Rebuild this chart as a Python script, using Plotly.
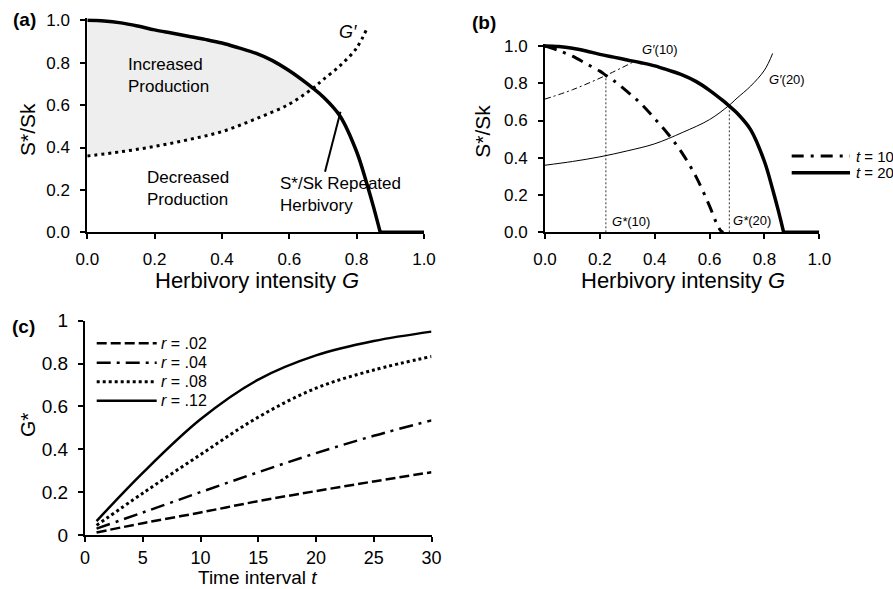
import plotly.graph_objects as go

FONT = "Liberation Sans, Arial, sans-serif"
W, H = 893, 589

# ---------------- data ----------------
# (a) / (b): equilibrium S*/Sk under repeated herbivory (t = 20)
G_GRID = [0, 0.05, 0.1, 0.15, 0.2, 0.25, 0.3, 0.35, 0.4, 0.45, 0.5, 0.55,
          0.6, 0.65, 0.67, 0.7, 0.75, 0.8, 0.83, 0.85, 0.87, 1.0]
S_T20 = [1.0, 0.997, 0.988, 0.973, 0.955, 0.94, 0.925, 0.91, 0.893, 0.87,
         0.845, 0.81, 0.762, 0.705, 0.68, 0.64, 0.55, 0.38, 0.23, 0.12,
         0.0, 0.0]
G_ZERO = 0.87  # intensity at which S*/Sk reaches zero

# G' threshold curve (same as G'(20))
GP_X = [0, 0.1, 0.2, 0.3, 0.4, 0.5, 0.6, 0.67, 0.7, 0.75, 0.8, 0.83]
GP_Y = [0.36, 0.38, 0.405, 0.437, 0.475, 0.535, 0.605, 0.68, 0.72, 0.785,
        0.87, 0.96]
G_CROSS = 0.67

# (b): t = 10 curve and its threshold G'(10)
G_T10 = [0, 0.05, 0.1, 0.15, 0.2, 0.222, 0.25, 0.3, 0.35, 0.4, 0.45, 0.5,
         0.55, 0.6, 0.625, 0.64, 0.65]
S_T10 = [1.0, 0.975, 0.945, 0.905, 0.865, 0.842, 0.815, 0.755, 0.69, 0.61,
         0.525, 0.425, 0.30, 0.14, 0.05, 0.01, 0.0]
GP10_X = [0, 0.1, 0.222, 0.33]
GP10_Y = [0.715, 0.765, 0.842, 0.92]

# optimal intensities G*(10), G*(20) and the S*/Sk value where they sit
G_STAR = [0.222, 0.672]
S_STAR = [0.842, 0.68]

# (c): G* against time interval t for four growth rates
T_VALS = [1, 5, 10, 15, 20, 25, 30]
G_R02 = [0.012, 0.055, 0.105, 0.158, 0.205, 0.25, 0.293]
G_R04 = [0.03, 0.105, 0.2, 0.293, 0.382, 0.463, 0.535]
G_R08 = [0.045, 0.195, 0.375, 0.55, 0.685, 0.77, 0.833]
G_R12 = [0.065, 0.29, 0.54, 0.725, 0.838, 0.905, 0.949]
R_LABELS = ["<i>r</i> = .02", "<i>r</i> = .04", "<i>r</i> = .08", "<i>r</i> = .12"]

TICKS_AB = [0, 0.2, 0.4, 0.6, 0.8, 1.0]
TICKS_C_X = [0, 5, 10, 15, 20, 25, 30]
TICKS_C_Y = [0, 0.2, 0.4, 0.6, 0.8, 1]

# ---------------- styles ----------------
R_STYLES = [
    dict(color="black", width=2.5, dash="10px,4px"),
    dict(color="black", width=2.5, dash="14px,6px,3px,6px"),
    dict(color="black", width=3, dash="3px,3px"),
    dict(color="black", width=2.5, dash="solid"),
]
T_STYLES = [
    dict(color="black", width=3, dash="12px,7px,3px,7px"),
    dict(color="black", width=3.5, dash="solid"),
]


def px_x(p):
    return p / W


def px_y(p):
    return 1 - p / H


def split_curve(xs, ys, x_break):
    """Falling part (smoothed) and flat zero tail of the S*/Sk curve."""
    fall = [(x, y) for x, y in zip(xs, ys) if x <= x_break]
    tail = [(x, y) for x, y in zip(xs, ys) if x >= x_break]
    return fall, tail


fig = go.Figure()

# ---------------- panel (a) ----------------
up = [(g, s) for g, s in zip(G_GRID, S_T20) if g <= G_CROSS]
lo = [(g, s) for g, s in zip(GP_X, GP_Y) if g <= G_CROSS]
poly = up + lo[::-1]
fig.add_trace(go.Scatter(x=[p[0] for p in poly], y=[p[1] for p in poly],
                         fill="toself", fillcolor="#eeeeee",
                         line=dict(width=0, shape="spline"), mode="lines",
                         hoverinfo="skip", xaxis="x", yaxis="y"))
fig.add_trace(go.Scatter(x=GP_X, y=GP_Y, mode="lines",
                         line=dict(color="black", width=3, dash="3px,4px",
                                   shape="spline"),
                         xaxis="x", yaxis="y"))
fall, tail = split_curve(G_GRID, S_T20, G_ZERO)
for part, shape in ((fall, "spline"), (tail, "linear")):
    fig.add_trace(go.Scatter(x=[p[0] for p in part], y=[p[1] for p in part],
                             mode="lines",
                             line=dict(color="black", width=3.5, shape=shape),
                             xaxis="x", yaxis="y"))

# ---------------- panel (b) ----------------
for g, s in zip(G_STAR, S_STAR):
    fig.add_trace(go.Scatter(x=[g, g], y=[0, s], mode="lines",
                             line=dict(color="#333333", width=1, dash="2px,2px"),
                             xaxis="x2", yaxis="y2"))
fig.add_trace(go.Scatter(x=GP10_X, y=GP10_Y, mode="lines",
                         line=dict(color="black", width=1,
                                   dash="6px,3px,2px,3px", shape="spline"),
                         xaxis="x2", yaxis="y2"))
fig.add_trace(go.Scatter(x=GP_X, y=GP_Y, mode="lines",
                         line=dict(color="black", width=1, shape="spline"),
                         xaxis="x2", yaxis="y2"))
fig.add_trace(go.Scatter(x=G_T10, y=S_T10, mode="lines",
                         line=dict(T_STYLES[0], shape="spline"),
                         xaxis="x2", yaxis="y2"))
for part, shape in ((fall, "spline"), (tail, "linear")):
    fig.add_trace(go.Scatter(x=[p[0] for p in part], y=[p[1] for p in part],
                             mode="lines", line=dict(T_STYLES[1], shape=shape),
                             xaxis="x2", yaxis="y2"))

# ---------------- panel (c) ----------------
for ys, st in zip([G_R02, G_R04, G_R08, G_R12], R_STYLES):
    fig.add_trace(go.Scatter(x=T_VALS, y=ys, mode="lines",
                             line=dict(st, shape="spline"),
                             xaxis="x3", yaxis="y3"))


# ---------------- axes ----------------
def axis(size, **kw):
    d = dict(showline=True, linecolor="black", linewidth=2, ticks="outside",
             ticklen=5, tickwidth=2, tickcolor="black", showgrid=False,
             zeroline=False, fixedrange=True, automargin=False,
             tickfont=dict(family=FONT, size=size, color="black"))
    d.update(kw)
    return d


fig.update_layout(
    xaxis=axis(17, domain=[px_x(87.3), px_x(424)], range=[0, 1],
               tickvals=TICKS_AB, tickformat=".1f", anchor="y",
               ticklabelstandoff=5),
    yaxis=axis(17, domain=[px_y(232.3), px_y(18.2)], range=[0, 1.01],
               tickvals=TICKS_AB, tickformat=".1f", anchor="x",
               ticklabelstandoff=7),
    xaxis2=axis(17, domain=[px_x(545), px_x(819.3)], range=[0, 1],
                tickvals=TICKS_AB, tickformat=".1f", anchor="y2",
                ticklabelstandoff=5),
    yaxis2=axis(17, domain=[px_y(232.3), px_y(44.1)], range=[0, 1.01],
                tickvals=TICKS_AB, tickformat=".1f", anchor="x2",
                ticklabelstandoff=7),
    xaxis3=axis(18, domain=[px_x(85), px_x(431.5)], range=[0, 30],
                tickvals=TICKS_C_X, anchor="y3", ticklabelstandoff=0),
    yaxis3=axis(19, domain=[px_y(535), px_y(320.7)], range=[0, 1],
                tickvals=TICKS_C_Y, anchor="x3", ticklabelstandoff=6),
)

# ---------------- legends (line samples + labels) ----------------
shapes = []
annotations = []


def note(text, x, y, ref, size, **kw):
    d = dict(text=text, x=x, y=y, showarrow=False,
             xanchor="center", yanchor="middle",
             font=dict(family=FONT, size=size, color="black"))
    if ref == "paper":
        d.update(xref="paper", yref="paper")
    else:
        d.update(xref=ref[0], yref=ref[1])
    d.update(kw)
    annotations.append(d)


# panel (b) legend
for st, lab, yy in zip(T_STYLES, ["<i>t</i> = 10", "<i>t</i> = 20"], [156, 172.7]):
    shapes.append(dict(type="line", xref="paper", yref="paper",
                       x0=px_x(791.7), x1=px_x(850), y0=px_y(yy), y1=px_y(yy),
                       line=st))
    note(lab, px_x(854), px_y(yy), "paper", 15, xanchor="left")

# panel (c) legend
for st, lab, yy in zip(R_STYLES, R_LABELS, [343.3, 362.7, 381.7, 400.7]):
    shapes.append(dict(type="line", xref="paper", yref="paper",
                       x0=px_x(96.7), x1=px_x(156.7), y0=px_y(yy), y1=px_y(yy),
                       line=st))
    note(lab, px_x(159), px_y(yy), "paper", 16, xanchor="left")

# callout line for the repeated-herbivory curve in (a)
shapes.append(dict(type="line", xref="x", yref="y", x0=0.706, y0=0.286,
                   x1=0.752, y1=0.569, line=dict(color="black", width=2)))

# panel (a) text
note("Increased<br>Production", 0.115, 0.74, ("x", "y"), 17,
     xanchor="left", align="left")
note("Decreased<br>Production", 0.171, 0.206, ("x", "y"), 17,
     xanchor="left", align="left")
note("S*/Sk Repeated<br>Herbivory", 0.567, 0.176, ("x", "y"), 17,
     xanchor="left", align="left")
note("<i>G′</i>", 0.775, 0.946, ("x", "y"), 18)

# panel (b) text
note("<i>G′</i>(10)", 0.419, 0.98, ("x2", "y2"), 13)
note("<i>G′</i>(20)", 0.881, 0.82, ("x2", "y2"), 13)
note("<i>G*</i>(10)", 0.315, 0.057, ("x2", "y2"), 13)
note("<i>G*</i>(20)", 0.756, 0.062, ("x2", "y2"), 13)

# panel letters
note("<b>(a)</b>", px_x(24), px_y(20), "paper", 19)
note("<b>(b)</b>", px_x(484), px_y(22), "paper", 19)
note("<b>(c)</b>", px_x(23), px_y(326.7), "paper", 19)

# axis titles
note("Herbivory intensity <i>G</i>", px_x(256.7), px_y(280), "paper", 22)
note("Herbivory intensity <i>G</i>", px_x(683), px_y(280), "paper", 22)
note("Time interval <i>t</i>", px_x(257.7), px_y(577), "paper", 19)
note("S*/Sk", px_x(28), px_y(130), "paper", 21, textangle=-90)
note("S*/Sk", px_x(483), px_y(131.7), "paper", 21, textangle=-90)
note("G*", px_x(27), px_y(425), "paper", 21, textangle=-90)

fig.update_layout(
    template="none",
    width=W, height=H, autosize=False,
    margin=dict(l=0, r=0, t=0, b=0, pad=0, autoexpand=False),
    paper_bgcolor="white", plot_bgcolor="white",
    showlegend=False,
    shapes=shapes, annotations=annotations,
    font=dict(family=FONT, color="black"),
)

fig.write_html("out.html")
